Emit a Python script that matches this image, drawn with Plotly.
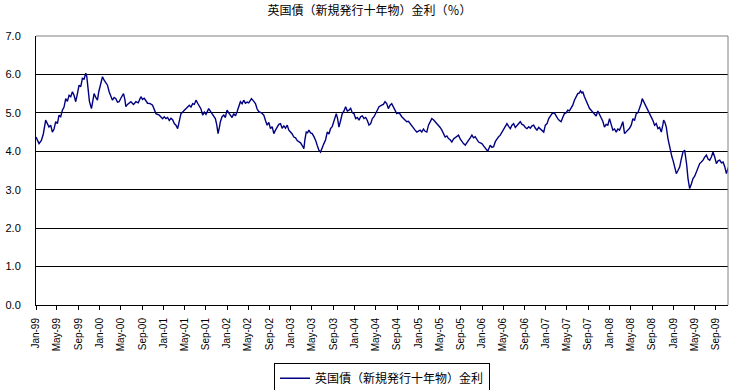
import pandas as pd
import plotly.graph_objects as go

# Months elapsed since 1 Jan 1999 and yield in %
months = [
    0.00, 0.57, 1.01, 1.38, 1.82, 2.14, 2.45, 2.77, 3.08, 3.40, 3.71, 4.03, 4.34, 4.65, 4.97, 5.28,
    5.60, 5.91, 6.23, 6.54, 6.86, 7.17, 7.48, 7.80, 8.11, 8.43, 8.74, 9.06, 9.37, 9.56, 9.81, 10.06,
    10.44, 10.69, 10.94, 11.26, 11.57, 11.82, 12.08, 12.52, 12.83, 13.14, 13.46, 13.77, 14.09, 14.40,
    14.72, 15.03, 15.35, 15.66, 15.97, 16.48, 16.73, 16.92, 17.23, 17.86, 18.36, 18.81, 19.25, 19.75,
    20.06, 20.38, 21.01, 21.51, 21.95, 22.26, 22.58, 23.21, 23.84, 24.15, 24.47, 24.78, 25.09, 25.41,
    25.72, 26.04, 26.35, 26.67, 26.98, 27.30, 27.61, 27.92, 28.36, 28.87, 29.18, 29.50, 29.81, 30.13,
    30.44, 30.75, 31.07, 31.38, 31.70, 32.01,
    32.52, 33.14, 33.77, 34.02, 34.28, 34.53, 34.72, 35.03, 35.35, 35.66, 35.97, 36.29, 36.60, 36.92,
    37.23, 37.55, 37.86, 38.18, 38.49, 38.81, 39.12, 39.43, 39.75, 40.06, 40.57, 41.01, 41.32, 41.64,
    41.95, 42.45, 42.89, 43.21, 43.52, 43.84, 44.15, 44.47, 44.78, 45.09, 45.41, 45.72, 46.04, 46.35,
    46.67, 46.98, 47.30, 47.61, 47.92, 48.24, 48.55, 48.87, 49.18, 49.50, 49.81, 50.13, 50.44, 50.63,
    50.88, 51.13, 51.38, 51.70, 52.01, 52.33, 52.64, 52.96, 53.27, 53.58, 53.90, 54.21, 54.53, 54.84,
    55.16, 55.47, 55.79, 56.10, 56.54, 56.79, 57.04, 57.36, 57.67, 57.99, 58.30, 58.62, 58.93, 59.25,
    59.56, 59.87, 60.19, 60.50, 60.82, 61.13, 61.45, 61.76, 62.08, 62.39, 62.70, 63.02, 63.33, 63.65,
    63.96, 64.28, 64.59, 65.09,
    65.41, 65.72, 66.04, 66.35, 66.67, 66.98, 67.30, 67.61, 67.92, 68.24, 68.55, 68.87, 69.18, 69.50,
    69.81, 70.13, 70.44, 70.75, 71.07, 71.38, 71.70, 72.01, 72.33, 72.64, 72.96, 73.27, 73.58, 73.90,
    74.21, 74.53, 74.84, 75.16, 75.47, 75.79, 76.10, 76.42, 76.73, 77.04, 77.36, 77.67, 77.99, 78.30,
    78.62, 78.93, 79.25, 79.56, 79.87, 80.19, 80.50, 80.82, 81.13, 81.45, 81.76, 82.08, 82.39, 82.70,
    83.02, 83.33, 83.65, 83.96, 84.28, 84.59, 84.91, 85.09, 85.35, 85.53, 85.85, 86.16, 86.48, 86.79,
    87.11, 87.42, 87.74, 88.05, 88.36, 88.68, 88.99, 89.31, 89.62, 89.94, 90.25, 90.57, 90.88, 91.19,
    91.51, 91.82, 92.14, 92.45, 92.77, 93.08, 93.40, 93.71, 94.03, 94.34, 94.65, 94.97, 95.28, 95.60,
    95.91, 96.23, 96.54, 96.86, 97.17,
    97.61, 97.92, 98.24, 98.55, 98.87, 99.18, 99.50, 99.81, 100.13, 100.44, 100.75, 101.07, 101.38,
    101.70, 102.01, 102.33, 102.52, 102.77, 102.96, 103.27, 103.59, 103.90, 104.21, 104.53, 104.84,
    105.16, 105.47, 105.79, 106.10, 106.42, 106.73, 107.04, 107.36, 107.67, 107.99, 108.30, 108.62,
    108.93, 109.25, 109.56, 109.87, 110.19, 110.50, 110.82, 111.13, 111.45, 111.76, 112.08, 112.39,
    112.70, 113.02, 113.33, 113.65, 113.96, 114.15, 114.40, 114.59, 114.91, 115.22, 115.53, 115.85,
    116.16, 116.48, 116.79, 117.11, 117.42, 117.74, 118.05, 118.18, 118.43, 118.68, 118.99, 119.31,
    119.50, 119.75, 119.94, 120.25, 120.57, 120.88, 121.20, 121.51, 121.82, 122.14, 122.33, 122.52,
    122.77, 122.96, 123.08, 123.40, 123.71, 124.03, 124.34, 124.65, 124.97, 125.28, 125.60, 125.91,
    126.23, 126.54, 126.86, 127.17, 127.48, 127.80, 128.11, 128.43, 128.74, 129.06, 129.37, 129.69,
    130.00, 130.31, 130.63,
]

yields = [
    4.37, 4.20, 4.28, 4.45, 4.81, 4.70, 4.63, 4.68, 4.50, 4.58, 4.77, 4.72, 4.94, 4.90, 5.07, 5.15,
    5.37, 5.30, 5.46, 5.42, 5.55, 5.45, 5.29, 5.50, 5.72, 5.68, 5.90, 5.88, 6.03, 5.95, 5.62, 5.30,
    5.11, 5.30, 5.50, 5.40, 5.33, 5.55, 5.72, 5.94, 5.85, 5.77, 5.72, 5.55, 5.45, 5.33,
    5.40, 5.37, 5.28, 5.29, 5.38, 5.50, 5.35, 5.16, 5.22, 5.29, 5.22, 5.29, 5.26, 5.42,
    5.35, 5.38, 5.25, 5.24, 5.20, 5.10, 4.98, 4.94, 4.85, 4.90, 4.85, 4.88, 4.80, 4.86,
    4.82, 4.72, 4.68, 4.59, 4.80, 4.98, 5.02, 5.07, 5.12, 5.20, 5.15, 5.24, 5.22, 5.33,
    5.25, 5.16, 5.10, 4.94, 5.02, 4.96,
    5.11, 4.98, 4.85, 4.70, 4.46, 4.62, 4.77, 4.90, 4.94, 4.88, 5.07, 5.00, 4.94, 4.88,
    4.98, 4.92, 5.03, 5.15, 5.29, 5.24, 5.33, 5.25, 5.28, 5.26, 5.37, 5.30, 5.24, 5.10,
    5.03, 5.00, 4.94, 4.80, 4.68, 4.75, 4.59, 4.64, 4.46, 4.55, 4.63, 4.70, 4.72, 4.60,
    4.66, 4.60, 4.68, 4.55, 4.50, 4.45, 4.37, 4.35, 4.28, 4.24, 4.22, 4.15, 4.07, 4.30,
    4.50, 4.48, 4.55, 4.48, 4.46, 4.38, 4.29, 4.15, 4.03, 3.98, 4.12, 4.20, 4.30, 4.50,
    4.45, 4.59, 4.65, 4.81, 4.98, 4.85, 4.63, 4.80, 4.98, 5.05, 5.16, 5.05, 5.07, 5.12,
    5.00, 4.98, 4.85, 4.88, 4.81, 4.90, 4.92, 4.85, 4.88, 4.80, 4.68, 4.72, 4.85, 4.90,
    4.98, 5.05, 5.16, 5.20,
    5.22, 5.29, 5.24, 5.11, 5.20, 5.24, 5.16, 5.05, 4.98, 5.00, 4.97, 4.90, 4.85, 4.80,
    4.77, 4.78, 4.72, 4.65, 4.59, 4.55, 4.50, 4.52, 4.55, 4.50, 4.58, 4.52, 4.50, 4.68,
    4.78, 4.85, 4.82, 4.77, 4.72, 4.68, 4.62, 4.55, 4.45, 4.37, 4.40, 4.33, 4.30, 4.24,
    4.32, 4.36, 4.40, 4.42, 4.32, 4.24, 4.20, 4.16, 4.22, 4.26, 4.35, 4.42, 4.35, 4.38,
    4.30, 4.24, 4.22, 4.20, 4.14, 4.07, 4.03, 4.01, 4.10, 4.16, 4.10, 4.12, 4.25, 4.33,
    4.38, 4.42, 4.50, 4.59, 4.68, 4.72, 4.65, 4.59, 4.68, 4.72, 4.62, 4.68, 4.72, 4.77,
    4.70, 4.68, 4.62, 4.59, 4.64, 4.60, 4.66, 4.68, 4.60, 4.55, 4.62, 4.58, 4.55, 4.50,
    4.68, 4.72, 4.85, 4.92, 4.98,
    5.00, 4.92, 4.85, 4.80, 4.77, 4.88, 4.98, 5.00, 5.07, 5.05, 5.11, 5.20, 5.33,
    5.40, 5.50, 5.52, 5.57, 5.52, 5.55, 5.42, 5.30, 5.20, 5.12, 5.07, 5.02,
    4.98, 4.92, 5.05, 4.95, 4.89, 4.78, 4.63, 4.70, 4.68, 4.85, 4.70, 4.55,
    4.58, 4.50, 4.58, 4.55, 4.65, 4.77, 4.46, 4.50, 4.55, 4.60, 4.68, 4.85,
    4.80, 4.98, 5.00, 5.11, 5.25, 5.37, 5.30, 5.28, 5.18, 5.11, 5.00, 4.89,
    4.80, 4.68, 4.72, 4.59, 4.62, 4.50, 4.70, 4.81, 4.75, 4.63, 4.33, 4.10,
    3.98, 3.85, 3.77, 3.60, 3.42, 3.50, 3.59, 3.80, 3.98, 4.03, 3.85, 3.65,
    3.29, 3.15, 3.03, 3.15, 3.29, 3.35, 3.46, 3.55, 3.68, 3.72, 3.77, 3.85,
    3.90, 3.80, 3.77, 3.85, 3.98, 3.85, 3.68, 3.75, 3.77, 3.70, 3.72, 3.60,
    3.42, 3.55, 3.68,
]

series_name = "英国債（新規発行十年物）金利"
chart_title = "英国債（新規発行十年物）金利（％）"
y_ticks = [0, 1, 2, 3, 4, 5, 6, 7]
x_start = "1999-01-01"
x_end = "2009-11-10"

base = pd.Timestamp(x_start)
dates = [base + pd.Timedelta(days=m * 30.4375) for m in months]

fig = go.Figure()
fig.add_trace(go.Scatter(
    x=dates, y=yields, mode="lines", name=series_name,
    line=dict(color="#000080", width=1.4),
    showlegend=True,
))

label_font = dict(family="Liberation Sans Narrow, Liberation Sans, Arial", size=10, color="#000000")
jp_font = "Noto Sans CJK JP, sans-serif"

fig.update_layout(
    width=739, height=390,
    margin=dict(l=36, r=11, t=36, b=85, autoexpand=False),
    paper_bgcolor="white", plot_bgcolor="white",
    title=dict(text=chart_title, x=0.5, xanchor="center", y=0.972, yanchor="middle",
               font=dict(family=jp_font, size=12, color="#000000")),
    showlegend=True,
    legend=dict(orientation="h", x=0.5, xanchor="center",
                yref="container", y=0.07, yanchor="top",
                bordercolor="#000000", borderwidth=1, bgcolor="white",
                font=dict(family=jp_font, size=12, color="#000000"),
                itemwidth=30, tracegroupgap=0),
    xaxis=dict(
        type="date", range=[x_start, x_end], automargin=False,
        tick0=x_start, dtick="M4", tickformat="%b-%y", tickangle=-90,
        ticks="outside", ticklen=4, tickcolor="#000000",
        showgrid=False, showline=True, linecolor="#000000", linewidth=1,
        tickfont=label_font, ticklabelstandoff=4,
    ),
    yaxis=dict(
        range=[0, 7], tickvals=y_ticks, tickformat=".1f", automargin=False,
        showgrid=True, gridcolor="#000000", gridwidth=1,
        showline=True, linecolor="#000000", linewidth=1,
        zeroline=False, ticks="", tickfont=dict(family="Liberation Sans, Arial", size=11, color="#000000"),
        ticklabelstandoff=12,
    ),
)

# grey frame on top and right edges of the plot area
fig.add_shape(type="line", xref="paper", yref="paper", x0=0, x1=1, y0=1, y1=1,
              line=dict(color="#808080", width=1), layer="above")
fig.add_shape(type="line", xref="paper", yref="paper", x0=1, x1=1, y0=0, y1=1,
              line=dict(color="#808080", width=1), layer="above")

fig.write_html("out.html", config={"displayModeBar": False},
               post_script="document.body.style.margin='0';document.body.style.overflow='hidden';")
